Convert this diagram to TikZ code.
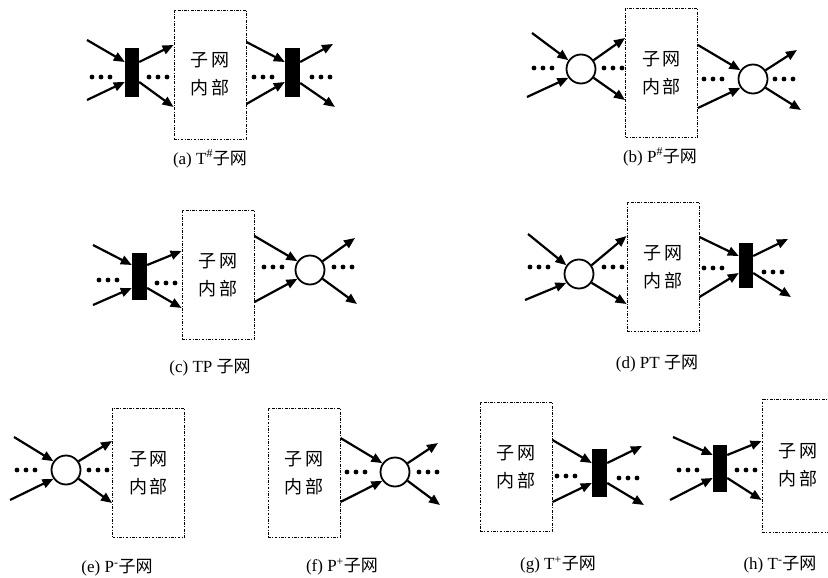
\documentclass[tikz,border=0pt]{standalone}
\usepackage{fontspec}
\setmainfont{Liberation Serif}
\newfontfamily\cjk{Noto Sans CJK SC}
\usetikzlibrary{arrows.meta}

\tikzset{
  subnet/.style={draw, line width=0.9pt,
    dash pattern=on 2.8pt off 1.4pt on 0.9pt off 1.4pt,
    minimum width=72pt, minimum height=129pt, inner sep=0pt,
    align=center, font=\cjk\fontsize{18}{28}\selectfont},
  trans/.style={fill=black, minimum width=14pt, minimum height=48pt, inner sep=0pt},
  place/.style={circle, draw, line width=1.8pt, minimum size=29pt, inner sep=0pt},
  arc/.style={line width=2.2pt, -{Triangle[length=11pt,width=9pt]}},
  caption/.style={font=\fontsize{17}{20}\selectfont, anchor=center, inner sep=0pt},
}
% three dots starting at the given centre, spaced 9pt
\newcommand\dotrow[2]{\foreach \k in {0,1,2}{\fill (#1+\k*9,#2) circle (2.4pt);}}
\newcommand\subtext{子\hspace{3pt}网\\内\hspace{3pt}部}

\begin{document}
\begin{tikzpicture}[x=1pt,y=-1pt]
\useasboundingbox (0,0) rectangle (828,578);
\fill[white] (0,0) rectangle (828,578);
\clip (0,0) rectangle (828,578);

% ---------- (a) T# subnet ----------
\node[subnet] (boxA) at (210,74.5) {\subtext};
\node[trans] (tA1) at (132,72.5) [minimum height=49pt] {};
\node[trans] (tA2) at (292.5,72.5) [minimum width=15pt, minimum height=49pt] {};
\coordinate (inA1) at (87,40);
\coordinate (inA2) at (87,100);
\coordinate (outA1) at (333,44);
\coordinate (outA2) at (335,107);
\draw[arc] (inA1) -- (tA1.west |- 0,62);
\draw[arc] (inA2) -- (tA1.west |- 0,82);
\draw[arc] (tA1.east |- 0,62) -- (boxA.west |- 0,45);
\draw[arc] (tA1.east |- 0,82) -- (boxA.west |- 0,107);
\draw[arc] (boxA.east |- 0,42) -- (tA2.west |- 0,62);
\draw[arc] (boxA.east |- 0,104) -- (tA2.west |- 0,82);
\draw[arc] (tA2.east |- 0,62) -- (outA1);
\draw[arc] (tA2.east |- 0,83) -- (outA2);
\dotrow{92}{77}\dotrow{149}{77}\dotrow{254}{77}\dotrow{312}{77}
\node[caption] (capA) at (210,159) {(a) T\textsuperscript{\#}{\cjk 子网}};

% ---------- (b) P# subnet ----------
\node[subnet] (boxB) at (661.5,73) {\subtext};
\node[place] (cB1) at (581,69) {};
\node[place] (cB2) at (753,79) {};
\coordinate (inB1) at (532,33);
\coordinate (inB2) at (527,97);
\coordinate (outB1) at (797,50);
\coordinate (outB2) at (801,110);
\draw[arc] (inB1) -- (cB1.145);
\draw[arc] (inB2) -- (cB1.215);
\draw[arc] (cB1.35) -- (boxB.west |- 0,38);
\draw[arc] (cB1.-35) -- (boxB.west |- 0,100);
\draw[arc] (boxB.east |- 0,45) -- (cB2.145);
\draw[arc] (boxB.east |- 0,108) -- (cB2.215);
\draw[arc] (cB2.35) -- (outB1);
\draw[arc] (cB2.-35) -- (outB2);
\dotrow{534}{68}\dotrow{604}{68}\dotrow{704}{79}\dotrow{775}{79}
\node[caption] (capB) at (660,157) {(b) P\textsuperscript{\#}{\cjk 子网}};

% ---------- (c) TP subnet ----------
\node[subnet] (boxC) at (218,275) {\subtext};
\node[trans] (tC) at (139.5,276.5) [minimum width=15pt, minimum height=47pt] {};
\node[place] (cC) at (310,270) {};
\coordinate (inC1) at (93,245);
\coordinate (inC2) at (93,305);
\coordinate (outC1) at (355,238);
\coordinate (outC2) at (357,304);
\draw[arc] (inC1) -- (tC.west |- 0,265);
\draw[arc] (inC2) -- (tC.west |- 0,288);
\draw[arc] (tC.east |- 0,265) -- (boxC.west |- 0,251);
\draw[arc] (tC.east |- 0,288) -- (boxC.west |- 0,308);
\draw[arc] (boxC.east |- 0,236) -- (cC.145);
\draw[arc] (boxC.east |- 0,302) -- (cC.215);
\draw[arc] (cC.35) -- (outC1);
\draw[arc] (cC.-35) -- (outC2);
\dotrow{99}{280}\dotrow{157}{283}\dotrow{264}{267}\dotrow{334}{267}
\node[caption] (capC) at (210,368) {(c) TP {\cjk 子网}};

% ---------- (d) PT subnet ----------
\node[subnet] (boxD) at (663,267) {\subtext};
\node[place] (cD) at (579,274) {};
\node[trans] (tD) at (746,265.5) [minimum height=45pt] {};
\coordinate (inD1) at (528,234);
\coordinate (inD2) at (525,300);
\coordinate (outD1) at (788,239);
\coordinate (outD2) at (791,297);
\draw[arc] (inD1) -- (cD.145);
\draw[arc] (inD2) -- (cD.215);
\draw[arc] (cD.35) -- (boxD.west |- 0,236);
\draw[arc] (cD.-35) -- (boxD.west |- 0,304);
\draw[arc] (boxD.east |- 0,237) -- (tD.west |- 0,256);
\draw[arc] (boxD.east |- 0,297) -- (tD.west |- 0,273);
\draw[arc] (tD.east |- 0,256) -- (outD1);
\draw[arc] (tD.east |- 0,273) -- (outD2);
\dotrow{530}{267}\dotrow{604}{267}\dotrow{704}{268}\dotrow{764}{272}
\node[caption] (capD) at (657,364) {(d) PT {\cjk 子网}};

% ---------- (e) P- subnet ----------
\node[subnet] (boxE) at (148.5,473) {\subtext};
\node[place] (cE) at (66,470) {};
\coordinate (inE1) at (14,437);
\coordinate (inE2) at (10,500);
\draw[arc] (inE1) -- (cE.145);
\draw[arc] (inE2) -- (cE.215);
\draw[arc] (cE.35) -- (boxE.west |- 0,441);
\draw[arc] (cE.-35) -- (boxE.west |- 0,503);
\dotrow{17}{470}\dotrow{89}{470}
\node[caption] (capE) at (117,568) {(e) P\textsuperscript{-}{\cjk 子网}};

% ---------- (f) P+ subnet ----------
\node[subnet] (boxF) at (304,473) {\subtext};
\node[place] (cF) at (395,472) {};
\coordinate (outF1) at (438,443);
\coordinate (outF2) at (440,505);
\draw[arc] (boxF.east |- 0,438) -- (cF.145);
\draw[arc] (boxF.east |- 0,502) -- (cF.215);
\draw[arc] (cF.35) -- (outF1);
\draw[arc] (cF.-35) -- (outF2);
\dotrow{347}{472}\dotrow{419}{472}
\node[caption] (capF) at (342,567) {(f) P\textsuperscript{+}{\cjk 子网}};

% ---------- (g) T+ subnet ----------
\node[subnet] (boxG) at (516,467) {\subtext};
\node[trans] (tG) at (599.5,473) [minimum width=15pt] {};
\coordinate (outG1) at (642,446);
\coordinate (outG2) at (644,505);
\draw[arc] (boxG.east |- 0,440) -- (tG.west |- 0,463);
\draw[arc] (boxG.east |- 0,502) -- (tG.west |- 0,483);
\draw[arc] (tG.east |- 0,463) -- (outG1);
\draw[arc] (tG.east |- 0,483) -- (outG2);
\dotrow{557}{476}\dotrow{619}{478}
\node[caption] (capG) at (558,565) {(g) T\textsuperscript{+}{\cjk 子网}};

% ---------- (h) T- subnet ----------
\node[subnet] (boxH) at (798,465.5) [minimum height=133pt] {\subtext};
\node[trans] (tH) at (720,468.5) [minimum height=47pt] {};
\coordinate (inH1) at (673,437);
\coordinate (inH2) at (670,500);
\draw[arc] (inH1) -- (tH.west |- 0,455);
\draw[arc] (inH2) -- (tH.west |- 0,478);
\draw[arc] (tH.east |- 0,455) -- (boxH.west |- 0,441);
\draw[arc] (tH.east |- 0,478) -- (boxH.west |- 0,500);
\dotrow{679}{470}\dotrow{737}{470}
\node[caption] (capH) at (780,565) {(h) T\textsuperscript{-}{\cjk 子网}};
\end{tikzpicture}
\end{document}
